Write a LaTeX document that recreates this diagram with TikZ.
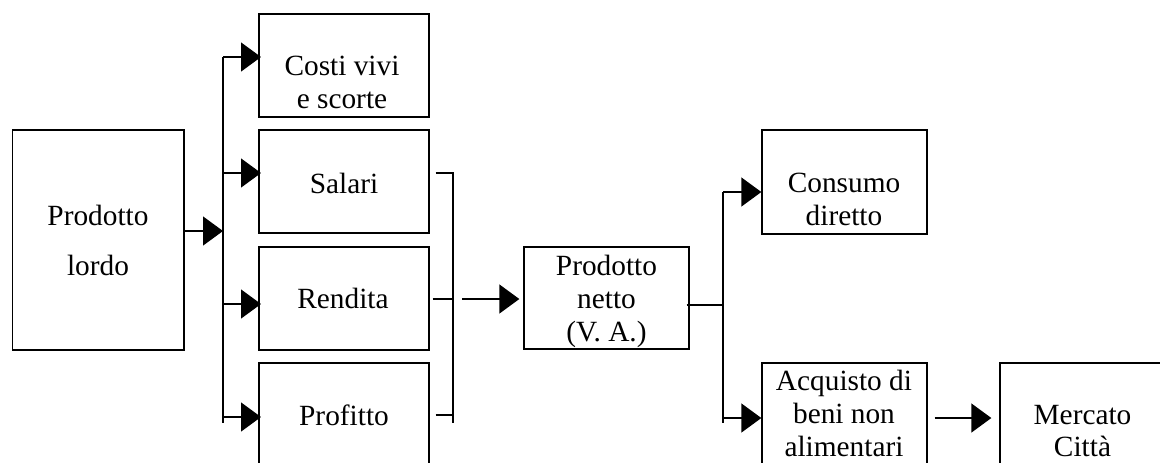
\documentclass[tikz,border=0pt]{standalone}
\usepackage{fontspec}
\setmainfont{Liberation Serif}
\usetikzlibrary{arrows.meta}
\newcommand\txtlines[2][25.1pt]{{\fontsize{22pt}{#1}\selectfont\begin{tabular}[t]{@{}c@{}}#2\end{tabular}}}
\begin{document}
\begin{tikzpicture}[x=0.75pt,y=-0.75pt,
  box/.style={draw, line width=1pt, inner sep=0pt, minimum width=127.5pt, minimum height=77.25pt},
  ln/.style={line width=1pt},
  arr/.style={line width=1pt, -{Triangle[length=15pt,width=21.75pt]}},
  lbl/.style={inner sep=0pt, anchor=base}]
\path[use as bounding box, fill=white] (0,0) rectangle (1160,462);
\clip (0,0) rectangle (1160,462);
% boxes
\node[box, minimum width=128.5pt, minimum height=165pt] (lordo) at (98.3,240) {};
\node[box] (costi) at (344,65.5) {};
\node[box] (salari) at (344,181.5) {};
\node[box] (rendita) at (344,298.5) {};
\node[box] (profitto) at (344,414.5) {};
\node[box, minimum width=123.75pt, minimum height=76.5pt] (netto) at (606.5,298) {};
\node[box, minimum width=123.75pt, minimum height=78pt] (consumo) at (844.5,182) {};
\node[box, minimum width=123.75pt] (acquisto) at (844.5,414.5) {};
\node[box, minimum width=124.5pt] (mercato) at (1083,414.5) {};
% labels
\node[lbl] (lordoT) at (98,225) {\txtlines[37.5pt]{Prodotto\\lordo}};
\node[lbl] (costiT) at (342,75) {\txtlines[24.75pt]{Costi vivi\\e scorte}};
\node[lbl] (salariT) at (344,193) {\txtlines{Salari}};
\node[lbl] (renditaT) at (343,308) {\txtlines{Rendita}};
\node[lbl] (profittoT) at (344,425) {\txtlines{Profitto}};
\node[lbl] (nettoT) at (606.5,275) {\txtlines{Prodotto\\netto\\(V. A.)}};
\node[lbl] (consumoT) at (844,192) {\txtlines{Consumo\\diretto}};
\node[lbl] (acquistoT) at (844,390) {\txtlines[24.9pt]{Acquisto di\\beni non\\alimentari}};
\node[lbl] (mercatoT) at (1082.5,424.5) {\txtlines[24.3pt]{Mercato\\Città}};
% first distribution
\coordinate (j1) at (223,231);
\coordinate (t1a) at (223,57);
\coordinate (t1s) at (223,173);
\coordinate (t1r) at (223,304);
\coordinate (t1p) at (223,417);
\coordinate (t1b) at (223,423);
\draw[arr] (lordo.east |- j1) -- (j1);
\draw[ln] (t1a) -- (t1b);
\draw[arr] (t1a) -- ([xshift=2pt]costi.west |- t1a);
\draw[arr] (t1s) -- ([xshift=2pt]salari.west |- t1s);
\draw[arr] (t1r) -- ([xshift=2pt]rendita.west |- t1r);
\draw[arr] (t1p) -- ([xshift=2pt]profitto.west |- t1p);
% bracket
\coordinate (k1) at (453,173);
\coordinate (k2) at (453,415);
\coordinate (k3) at (453,423);
\coordinate (k4) at (452,299);
\coordinate (a1) at (462,299);
\draw[ln] ([xshift=4.5pt]salari.east |- k1) -- (k1) -- (k3);
\draw[ln] ([xshift=4.5pt]profitto.east |- k2) -- (k2);
\draw[ln] ([xshift=2.25pt]rendita.east |- k4) -- (k4);
\draw[arr] (a1) -- ([xshift=-3pt]netto.west |- a1);
% second distribution
\coordinate (j2) at (723,305);
\coordinate (t2a) at (723,192);
\coordinate (t2c) at (723,418);
\coordinate (t2b) at (723,423);
\draw[ln] ([xshift=-2.25pt]netto.east |- j2) -- (j2);
\draw[ln] (t2a) -- (t2b);
\draw[arr] (t2a) -- (consumo.west |- t2a);
\draw[arr] (t2c) -- (acquisto.west |- t2c);
\draw[arr] ([xshift=5.25pt]acquisto.east |- t2c) -- ([xshift=-6pt]mercato.west |- t2c);
\end{tikzpicture}
\end{document}
